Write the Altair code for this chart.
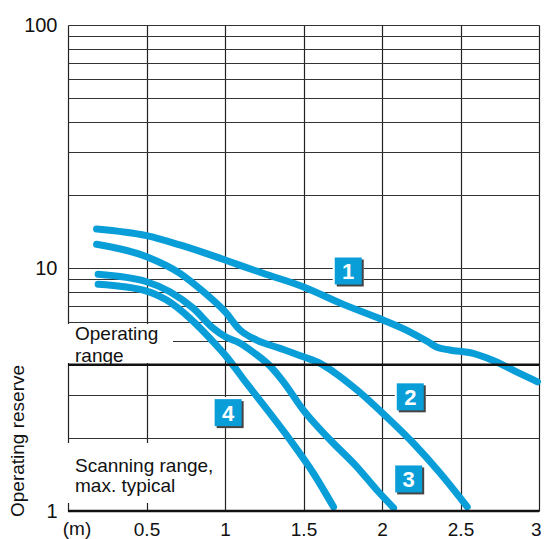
import altair as alt
import pandas as pd

FONT = "Liberation Sans"
BLUE = "#0a9ed9"

# axis ticks
x_ticks = [0, 0.5, 1, 1.5, 2, 2.5, 3]
y_ticks = [1, 2, 3, 4, 5, 6, 7, 8, 9, 10, 20, 30, 40, 50, 60, 70, 80, 90, 100]
ref_lines = [1, 4]

# curves (distance in m, operating reserve)
c1_x = [0.182, 0.5, 0.713, 1.0, 1.242, 1.497, 1.75, 2.006, 2.18, 2.29, 2.35, 2.43, 2.58, 2.70, 2.86, 2.99]
c1_y = [14.47, 13.58, 12.44, 10.79, 9.51, 8.38, 7.1, 6.11, 5.45, 4.98, 4.72, 4.60, 4.45, 4.18, 3.73, 3.40]
c2_x = [0.182, 0.5, 0.713, 0.862, 1.0, 1.096, 1.202, 1.351, 1.499, 1.606, 1.691, 1.84, 2.006, 2.2, 2.371, 2.543]
c2_y = [12.52, 11.13, 9.51, 7.99, 6.61, 5.56, 5.05, 4.67, 4.31, 4.05, 3.74, 3.15, 2.52, 1.90, 1.43, 1.04]
c3_x = [0.192, 0.5, 0.649, 0.798, 0.925, 1.0, 1.096, 1.18, 1.287, 1.372, 1.499, 1.67, 1.84, 1.967, 2.074]
c3_y = [9.42, 8.78, 7.99, 6.83, 5.65, 5.22, 4.90, 4.5, 3.95, 3.40, 2.60, 1.96, 1.52, 1.22, 1.03]
c4_x = [0.192, 0.5, 0.628, 0.777, 0.925, 1.0, 1.138, 1.287, 1.415, 1.563, 1.691]
c4_y = [8.57, 8.04, 7.38, 6.21, 4.97, 4.39, 3.35, 2.52, 1.96, 1.43, 1.04]

# curve number labels
lab_text = ["1", "2", "3", "4"]
lab_x = [1.785, 2.18, 2.17, 1.02]
lab_y = [9.72, 2.95, 1.355, 2.54]

rows = []
for name, xs, ys in [("1", c1_x, c1_y), ("2", c2_x, c2_y), ("3", c3_x, c3_y), ("4", c4_x, c4_y)]:
    for i, (a, b) in enumerate(zip(xs, ys)):
        rows.append({"series": name, "x": a, "y": b, "idx": i})
df = pd.DataFrame(rows)
labels = pd.DataFrame({"t": lab_text, "x": lab_x, "y": lab_y})

x_enc = alt.X(
    "x:Q",
    scale=alt.Scale(domain=[0, 3], nice=False, zero=False),
    axis=alt.Axis(
        values=x_ticks, grid=True, gridColor="#222", gridWidth=1.2,
        domain=False, ticks=False, title=None,
        labelExpr="datum.value == 0 ? '' : format(datum.value, '~g')",
        labelFont=FONT, labelFontSize=19, labelColor="#111", labelPadding=9,
        labelFlush=True, labelFlushOffset=2,
    ),
)
y_enc = alt.Y(
    "y:Q",
    scale=alt.Scale(type="log", domain=[1, 100], nice=False),
    axis=alt.Axis(
        values=y_ticks, grid=True, gridColor="#333", gridWidth=1.1,
        domain=False, ticks=False, title=None,
        labelExpr="(datum.value == 1 || datum.value == 10 || datum.value == 100) ? datum.label : ''",
        labelFont=FONT, labelFontSize=20, labelColor="#111", labelPadding=11,
        labelBaseline="middle",
    ),
)

one = pd.DataFrame({"a": [0]})

box1 = alt.Chart(one).mark_rect(color="white").encode(
    x=alt.value(-2), x2=alt.value(105), y=alt.value(299), y2=alt.value(338))
box2 = alt.Chart(one).mark_rect(color="white").encode(
    x=alt.value(-2), x2=alt.value(154), y=alt.value(418), y2=alt.value(478))

rules = alt.Chart(pd.DataFrame({"y": ref_lines})).mark_rule(color="#111", strokeWidth=2.5).encode(y=y_enc)

def txt(s, x, y, **kw):
    return alt.Chart(one).mark_text(font=FONT, fontSize=19, color="#111", **kw).encode(
        x=alt.value(x), y=alt.value(y), text=alt.value(s))

t1 = txt("Operating", 7, 315, align="left", baseline="alphabetic")
t2 = txt("range", 7, 337, align="left", baseline="alphabetic")
t3 = txt("Scanning range,", 7, 447, align="left", baseline="alphabetic")
t4 = txt("max. typical", 7, 467, align="left", baseline="alphabetic")
t5 = txt("(m)", 9, 495, align="center", baseline="top")
t6 = txt("Operating reserve", -50, 416, align="center", baseline="middle", angle=270)

lines = alt.Chart(df).mark_line(
    interpolate="monotone", strokeWidth=7, strokeCap="round", strokeJoin="round", color=BLUE
).encode(x=x_enc, y=y_enc, detail="series:N", order="idx:Q")

sq_white = alt.Chart(labels).mark_square(size=31 * 31, color="white", opacity=1, strokeWidth=0).encode(x=x_enc, y=y_enc)
sq_shadow = alt.Chart(labels).mark_square(size=27 * 27, color="#444", opacity=1, strokeWidth=0, xOffset=2, yOffset=2).encode(x=x_enc, y=y_enc)
sq_blue = alt.Chart(labels).mark_square(size=27 * 27, color=BLUE, opacity=1, strokeWidth=0).encode(x=x_enc, y=y_enc)
sq_text = alt.Chart(labels).mark_text(font=FONT, fontSize=22, fontWeight="bold", color="white", baseline="middle", dy=1).encode(
    x=x_enc, y=y_enc, text="t:N")

chart = alt.layer(
    lines, box1, box2, rules, t1, t2, t3, t4, t5, t6, sq_white, sq_shadow, sq_blue, sq_text
).properties(
    width=471, height=486, autosize="none",
    padding={"left": 60, "top": 17, "right": 2, "bottom": 28},
).configure_view(stroke=None)

chart.save("out.html", embed_options={"renderer": "svg", "actions": False})
